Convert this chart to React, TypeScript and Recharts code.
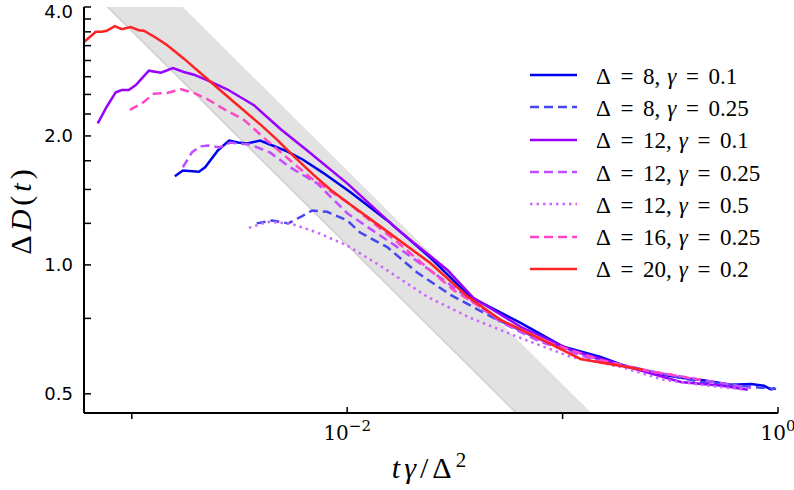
import React from 'react';
import { ComposedChart, Line, Area, XAxis, YAxis, Legend } from 'recharts';

// x = tγ/Δ², y = ΔD(t)
const d8g01X = [1.585e-3, 1.726e-3, 2.05e-3, 2.19e-3, 2.51e-3, 2.83e-3, 3.11e-3, 3.43e-3, 3.94e-3, 4.38e-3, 5.26e-3, 6.24e-3, 7.73e-3, 1.032e-2, 1.535e-2, 2.43e-2, 3.73e-2, 6.38e-2, 0.101, 0.15, 0.207, 0.28, 0.354, 0.45, 0.604, 0.75, 0.861, 0.927, 0.97];
const d8g01Y = [1.61, 1.66, 1.65, 1.69, 1.85, 1.95, 1.93, 1.92, 1.95, 1.91, 1.84, 1.76, 1.64, 1.48, 1.27, 1.04, 0.842, 0.732, 0.644, 0.61, 0.575, 0.556, 0.545, 0.538, 0.525, 0.527, 0.522, 0.512, 0.515];

const d8g025X = [3.8e-3, 4.48e-3, 5.32e-3, 6.18e-3, 6.88e-3, 8.07e-3, 1.0e-2, 1.148e-2, 1.535e-2, 2.12e-2, 3.02e-2, 4.78e-2, 7.9e-2, 0.15, 0.257, 0.438, 0.673, 0.98];
const d8g025Y = [1.25, 1.27, 1.25, 1.3, 1.34, 1.33, 1.27, 1.19, 1.1, 0.958, 0.851, 0.752, 0.668, 0.6, 0.564, 0.533, 0.522, 0.513];

const d12g01X = [6.95e-4, 7.65e-4, 8.43e-4, 8.98e-4, 9.68e-4, 1.044e-3, 1.2e-3, 1.364e-3, 1.552e-3, 1.746e-3, 1.942e-3, 2.234e-3, 2.77e-3, 3.69e-3, 4.93e-3, 6.52e-3, 1.0e-2, 1.71e-2, 2.92e-2, 3.85e-2, 6.38e-2, 0.109, 0.186, 0.354, 0.55, 0.724];
const d12g01Y = [2.14, 2.34, 2.53, 2.56, 2.56, 2.63, 2.84, 2.81, 2.88, 2.82, 2.78, 2.7, 2.57, 2.36, 2.07, 1.85, 1.55, 1.21, 0.973, 0.838, 0.717, 0.633, 0.584, 0.533, 0.522, 0.511];

const d12g025X = [1.726e-3, 1.901e-3, 2.07e-3, 2.26e-3, 2.56e-3, 2.86e-3, 3.54e-3, 4.38e-3, 5.43e-3, 7.25e-3, 1.0e-2, 1.71e-2, 2.92e-2, 5.15e-2, 7.9e-2, 0.15, 0.257, 0.438, 0.748];
const d12g025Y = [1.69, 1.83, 1.89, 1.9, 1.88, 1.93, 1.91, 1.83, 1.69, 1.55, 1.32, 1.1, 0.908, 0.736, 0.661, 0.594, 0.564, 0.539, 0.516];

const d12g05X = [3.5e-3, 4.25e-3, 5.43e-3, 7.25e-3, 1.0e-2, 1.424e-2, 2.36e-2, 3.73e-2, 6.38e-2, 0.109, 0.186, 0.295, 0.438, 0.71];
const d12g05Y = [1.22, 1.26, 1.25, 1.19, 1.11, 0.995, 0.842, 0.752, 0.675, 0.61, 0.578, 0.539, 0.525, 0.511];

const d16g025X = [9.79e-4, 1.113e-3, 1.266e-3, 1.456e-3, 1.69e-3, 1.942e-3, 2.234e-3, 2.68e-3, 3.32e-3, 4.2e-3, 6.73e-3, 1.0e-2, 1.71e-2, 3.11e-2, 5.15e-2, 7.9e-2, 0.15, 0.257, 0.438];
const d16g025Y = [2.3, 2.38, 2.51, 2.52, 2.57, 2.52, 2.44, 2.31, 2.18, 1.96, 1.6, 1.4, 1.13, 0.874, 0.744, 0.668, 0.6, 0.564, 0.539];

const d20g02X = [5.98e-4, 6.81e-4, 7.25e-4, 7.65e-4, 8.34e-4, 8.98e-4, 9.89e-4, 1.078e-3, 1.138e-3, 1.294e-3, 1.456e-3, 1.746e-3, 2.234e-3, 2.98e-3, 3.98e-3, 4.72e-3, 5.61e-3, 7.0e-3, 8.34e-3, 1.0e-2, 1.424e-2, 2.43e-2, 3.61e-2, 5.15e-2, 7.9e-2, 0.121, 0.236];
const d20g02Y = [3.31, 3.5, 3.5, 3.52, 3.61, 3.55, 3.59, 3.53, 3.52, 3.39, 3.26, 3.03, 2.72, 2.4, 2.12, 1.96, 1.8, 1.62, 1.5, 1.4, 1.23, 1.01, 0.845, 0.744, 0.672, 0.603, 0.569];

// grey guide band (t^-1/2 slope), edges read at the plot borders
const bandX = [6e-4, 0.2];
const bandLo = [4.54, 0.249];
const bandHi = [6.78, 0.372];

const xTicks = [1e-3, 1e-2, 1e-1, 1];
const xLabelled = [-2, 0];
const yMajor = [0.5, 1, 2, 4];
const yMinor = [0.75, 1.25, 1.5, 1.75, 2.25, 2.5, 2.75, 3, 3.25, 3.5, 3.75];

const series = [
  { key: 'd8g01', delta: '8', gamma: '0.1', xs: d8g01X, ys: d8g01Y, color: '#0000f0', dash: undefined },
  { key: 'd8g025', delta: '8', gamma: '0.25', xs: d8g025X, ys: d8g025Y, color: '#4646f2', dash: '9 5' },
  { key: 'd12g01', delta: '12', gamma: '0.1', xs: d12g01X, ys: d12g01Y, color: '#9a00ff', dash: undefined },
  { key: 'd12g025', delta: '12', gamma: '0.25', xs: d12g025X, ys: d12g025Y, color: '#c04dff', dash: '9 5' },
  { key: 'd12g05', delta: '12', gamma: '0.5', xs: d12g05X, ys: d12g05Y, color: '#cc66ff', dash: '2.5 4' },
  { key: 'd16g025', delta: '16', gamma: '0.25', xs: d16g025X, ys: d16g025Y, color: '#ff45c8', dash: '9 5' },
  { key: 'd20g02', delta: '20', gamma: '0.2', xs: d20g02X, ys: d20g02Y, color: '#ff2222', dash: undefined },
];

const bandData = bandX.map((x, i) => ({ x, lo: bandLo[i], range: [bandLo[i], bandHi[i]] }));

const XTick = (props: any) => {
  const { x, y, payload } = props;
  const exp = Math.round(Math.log10(payload.value));
  const labelled = xLabelled.includes(exp);
  return (
    <g>
      <line x1={x} x2={x} y1={y} y2={labelled ? y - 6 : y + 6} stroke="#000" strokeWidth={1.5} />
      {labelled && (
        <text x={x} y={y + 27} textAnchor="middle" fontFamily="DejaVu Serif" fontSize={20} fill="#000">
          10<tspan dy={-9} fontSize={15}>{exp === 0 ? '0' : '\u2212' + Math.abs(exp)}</tspan>
        </text>
      )}
    </g>
  );
};

const YTick = (props: any) => {
  const { x, y, payload } = props;
  const v = payload.value;
  const major = yMajor.includes(v);
  return (
    <g>
      <line x1={x} x2={x + 7} y1={y} y2={y} stroke="#000" strokeWidth={1.5} />
      {major && (
        <text x={x - 11} y={v === 4 ? y + 4 : y} textAnchor="end" dominantBaseline="central" fontFamily="DejaVu Sans" fontSize={18} fill="#000">
          {v.toFixed(1)}
        </text>
      )}
    </g>
  );
};

const XTitle = () => (
  <text x={431} y={478} textAnchor="middle" fontFamily="Times New Roman" fontSize={30} letterSpacing={4} fill="#000">
    <tspan fontStyle="italic">t</tspan>
    <tspan fontStyle="italic">γ</tspan>
    <tspan>/Δ</tspan>
    <tspan dy={-11} fontSize={21}>2</tspan>
  </text>
);

const YTitle = () => (
  <text x={0} y={0} transform="translate(31 210) rotate(-90)" textAnchor="middle" fontFamily="Times New Roman" fontSize={30} letterSpacing={4} fill="#000">
    <tspan>Δ</tspan>
    <tspan fontStyle="italic">D</tspan>
    <tspan>(</tspan>
    <tspan fontStyle="italic">t</tspan>
    <tspan>)</tspan>
  </text>
);

const Eq = () => <span style={{ margin: '0 0.42em' }}>=</span>;

const LegendContent = () => (
  <div style={{ fontFamily: 'Liberation Serif', fontSize: 23, color: '#000' }}>
    {series.map((s) => (
      <div key={s.key} style={{ display: 'flex', alignItems: 'center', height: 32.3 }}>
        <svg width={47} height={6} style={{ display: 'block' }}>
          <line x1={0} x2={47} y1={3} y2={3} stroke={s.color} strokeWidth={2.5} strokeDasharray={s.dash} />
        </svg>
        <span style={{ marginLeft: 19, whiteSpace: 'nowrap', paddingTop: 3 }}>
          Δ<Eq />{s.delta},<span style={{ marginLeft: '0.3em', fontStyle: 'italic' }}>γ</span><Eq />{s.gamma}
        </span>
      </div>
    ))}
  </div>
);

export default function App() {
  return (
    <div style={{ position: 'absolute', left: 0, top: 0, background: '#fff' }}>
      <ComposedChart width={794} height={490} margin={{ top: 7, right: 16, left: 0, bottom: 0 }}>
        <XAxis
          type="number"
          dataKey="x"
          scale="log"
          domain={[6e-4, 1]}
          allowDataOverflow
          ticks={xTicks}
          interval={0}
          height={77}
          tickSize={0}
          tickMargin={0}
          tickLine={false}
          axisLine={{ stroke: '#000', strokeWidth: 2 }}
          tick={<XTick />}
          label={<XTitle />}
        />
        <YAxis
          type="number"
          scale="log"
          domain={[0.451, 4]}
          allowDataOverflow
          ticks={[...yMajor, ...yMinor].sort((a, b) => a - b)}
          interval={0}
          width={84}
          tickSize={0}
          tickMargin={0}
          tickLine={false}
          axisLine={{ stroke: '#000', strokeWidth: 2 }}
          tick={<YTick />}
          label={<YTitle />}
        />
        <Area
          data={bandData}
          dataKey="range"
          type="linear"
          stroke="none"
          fill="#e2e2e2"
          fillOpacity={1}
          isAnimationActive={false}
          legendType="none"
        />
        <Line
          data={bandData}
          dataKey="lo"
          type="linear"
          stroke="#cfcfcf"
          strokeWidth={1.5}
          dot={false}
          isAnimationActive={false}
          legendType="none"
        />
        {series.map((s) => (
          <Line
            key={s.key}
            data={s.xs.map((x, i) => ({ x, y: s.ys[i] }))}
            dataKey="y"
            name={s.key}
            type="linear"
            stroke={s.color}
            strokeWidth={2.5}
            strokeDasharray={s.dash}
            dot={false}
            isAnimationActive={false}
          />
        ))}
        <Legend
          layout="vertical"
          align="center"
          verticalAlign="middle"
          wrapperStyle={{ left: 530, top: 59, width: 'auto' }}
          content={<LegendContent />}
        />
      </ComposedChart>
    </div>
  );
}
